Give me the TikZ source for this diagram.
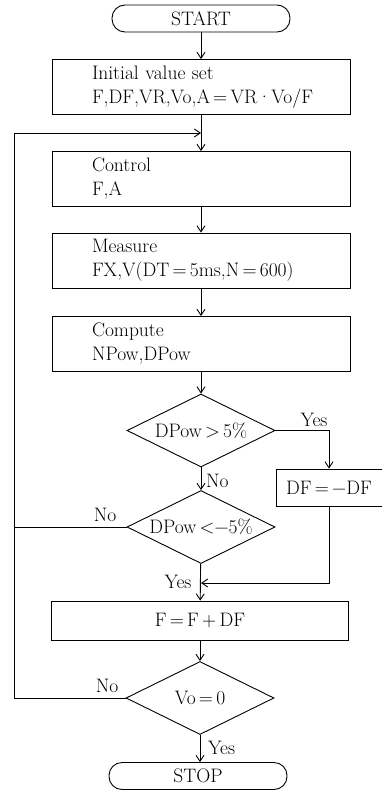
\documentclass[tikz,border=0pt]{standalone}
\usetikzlibrary{shapes.geometric,arrows.meta}
\tikzset{
  every node/.style={font=\fontsize{19.5}{24}\selectfont},
  lines/.style={line width=0.9pt},
  arr/.style={lines,-{Straight Barb[length=6pt,width=8pt,line width=0.9pt]}},
  termbox/.style={draw,lines,rectangle,rounded corners=13pt,minimum width=178pt,minimum height=27pt,inner sep=0pt},
  procbox/.style={draw,lines,rectangle,minimum width=298pt,minimum height=55pt,text width=218pt,inner xsep=40pt,inner ysep=0pt,align=left},
  simplebox/.style={draw,lines,rectangle,inner sep=0pt},
  decision/.style={draw,lines,diamond,minimum width=148pt,minimum height=73pt,inner sep=0pt,aspect=2.03},
  lbl/.style={inner sep=0pt}
}
\begin{document}
\begin{tikzpicture}[x=1pt,y=-1pt]
\useasboundingbox (0,0) rectangle (382,792);
\node[termbox] (start) at (201,18.5) {START};
\node[procbox] (init) at (201,87) {Initial value set\\F,DF,VR,Vo,A\,=\,VR·Vo/F};
\node[procbox] (control) at (201,179) {Control\\F,A};
\node[procbox] (measure) at (201,260.5) {Measure\\FX,V(DT\,=\,5ms,N\,=\,600)};
\node[procbox] (compute) at (201,344) {Compute\\NPow,DPow};
\node[decision] (d1) at (201,430.5) {DPow\,>\,5\%};
\node[simplebox,minimum width=106pt,minimum height=37pt] (dfbox) at (329,487.5) {DF\,=\,−DF};
\node[decision] (d2) at (201,527) {DPow\,<−5\%};
\node[simplebox,minimum width=297pt,minimum height=39pt] (fbox) at (200,620.5) {F\,=\,F\,+\,DF};
\node[decision] (d3) at (200,698) {Vo\,=\,0};
\node[termbox] (stop) at (198,776) {STOP};
\coordinate (m1) at (201,133);
\coordinate (m2) at (201,583);
\coordinate (lt) at (14,133);
\coordinate (lb) at (14,698);
% main flow
\draw[arr] (start) -- (init);
\draw[arr] (init) -- (control);
\draw[arr] (control) -- (measure);
\draw[arr] (measure) -- (compute);
\draw[arr] (compute) -- (d1);
\draw[arr] (d1) -- (d2);
\draw[arr] (d2) -- (fbox);
\draw[arr] (fbox) -- (d3);
\draw[arr] (d3.south) -- (d3.south |- stop.north);
% yes branch of d1
\draw[arr] (d1.east) -| (dfbox.north);
\draw[arr] (dfbox.south) |- (m2);
% loop back
\draw[arr] (d3.west) -- (lb) -- (lt) -- (m1);
\draw[lines] (d2.west) -- (lt |- d2.west);
% labels
\node[lbl] at (314,420) {Yes};
\node[lbl,anchor=west] at (206,481) {No};
\node[lbl] at (105,515) {No};
\node[lbl] at (178,582) {Yes};
\node[lbl] at (107,686) {No};
\node[lbl,anchor=west] at (208,748) {Yes};
\end{tikzpicture}
\end{document}
